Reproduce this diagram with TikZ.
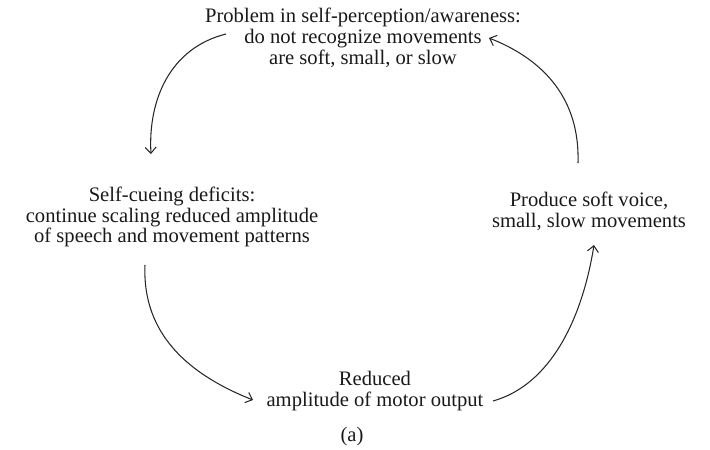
\documentclass[tikz,border=0pt]{standalone}
\usepackage{fontspec}
\setmainfont{Liberation Serif}
\usetikzlibrary{arrows.meta}
\begin{document}
\begin{tikzpicture}[x=1pt,y=-1pt,
  label/.style={align=center,inner sep=0pt,text=black!90,
    font=\fontsize{20.6}{20.8}\selectfont},
  flow/.style={line width=1.05pt,black!85,
    -{Straight Barb[length=6pt,width=11pt,line width=1.05pt]}}]
  \useasboundingbox (0,0) rectangle (710,450);

  % the four stages of the cycle
  \node[label] (top) at (363,38)
    {Problem in self-perception/awareness:\\do not recognize movements\\are soft, small, or slow};
  \node[label] (left) at (172,217)
    {Self-cueing deficits:\\continue scaling reduced amplitude\\of speech and movement patterns};
  \node[label] (right) at (589,211)
    {Produce soft voice,\\small, slow movements};
  \node[label] (bottom) at (375,391)
    {Reduced\\amplitude of motor output};
  \node[label] (cap) at (352,437) {(a)};

  % connector ends
  \coordinate (t1) at (226,34);
  \coordinate (l1) at (151,154);
  \coordinate (l2) at (145,265);
  \coordinate (b1) at (253,400);
  \coordinate (b2) at (493,401);
  \coordinate (r1) at (594,245);
  \coordinate (r2) at (578,163);
  \coordinate (t2) at (489,38);

  \draw[flow] (t1) .. controls (170,48) and (148,100) .. (l1);
  \draw[flow] (l2) .. controls (142,335) and (190,375) .. (b1);
  \draw[flow] (b2) .. controls (550,385) and (582,320) .. (r1);
  \draw[flow] (r2) .. controls (580,100) and (545,60) .. (t2);
\end{tikzpicture}
\end{document}
